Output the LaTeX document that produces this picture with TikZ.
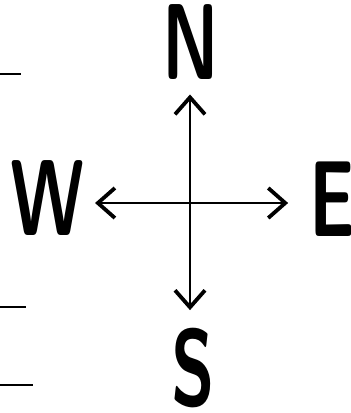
\documentclass[tikz,border=0pt]{standalone}
\usepackage{fontspec}
\usetikzlibrary{arrows.meta}

\newcommand{\narrow}[1]{\scalebox{0.66}[1]{#1}}

\begin{document}
\begin{tikzpicture}[x=1pt, y=-1pt,
	every node/.style={inner sep=0pt, font=\fontsize{108}{108}\selectfont\sffamily\bfseries},
	axis/.style={line width=1.3pt, {Straight Barb[length=17pt,width=30pt,line width=3.8pt]}-{Straight Barb[length=17pt,width=30pt,line width=3.8pt]}},
	tick/.style={line width=2.2pt}]
	\useasboundingbox (0,0) rectangle (351,413);
	\coordinate (c) at (190,203);
	\node[outer sep=15pt] (n) at (191,42)  {\narrow{N}};
	\node[outer sep=18pt] (s) at (193,368) {\narrow{S}};
	\node[outer sep=10pt] (w) at (48,198)  {\narrow{W}};
	\node[outer sep=21pt] (e) at (332,199) {\narrow{E}};
	\draw[axis] (c |- n.south) -- (c |- s.north);
	\draw[axis] (c -| w.east) -- (c -| e.west);
	% marks at the left edge
	\draw[tick] (0,74)  -- (21,74);
	\draw[tick] (0,307) -- (26,307);
	\draw[tick] (0,385) -- (33,385);
\end{tikzpicture}
\end{document}
